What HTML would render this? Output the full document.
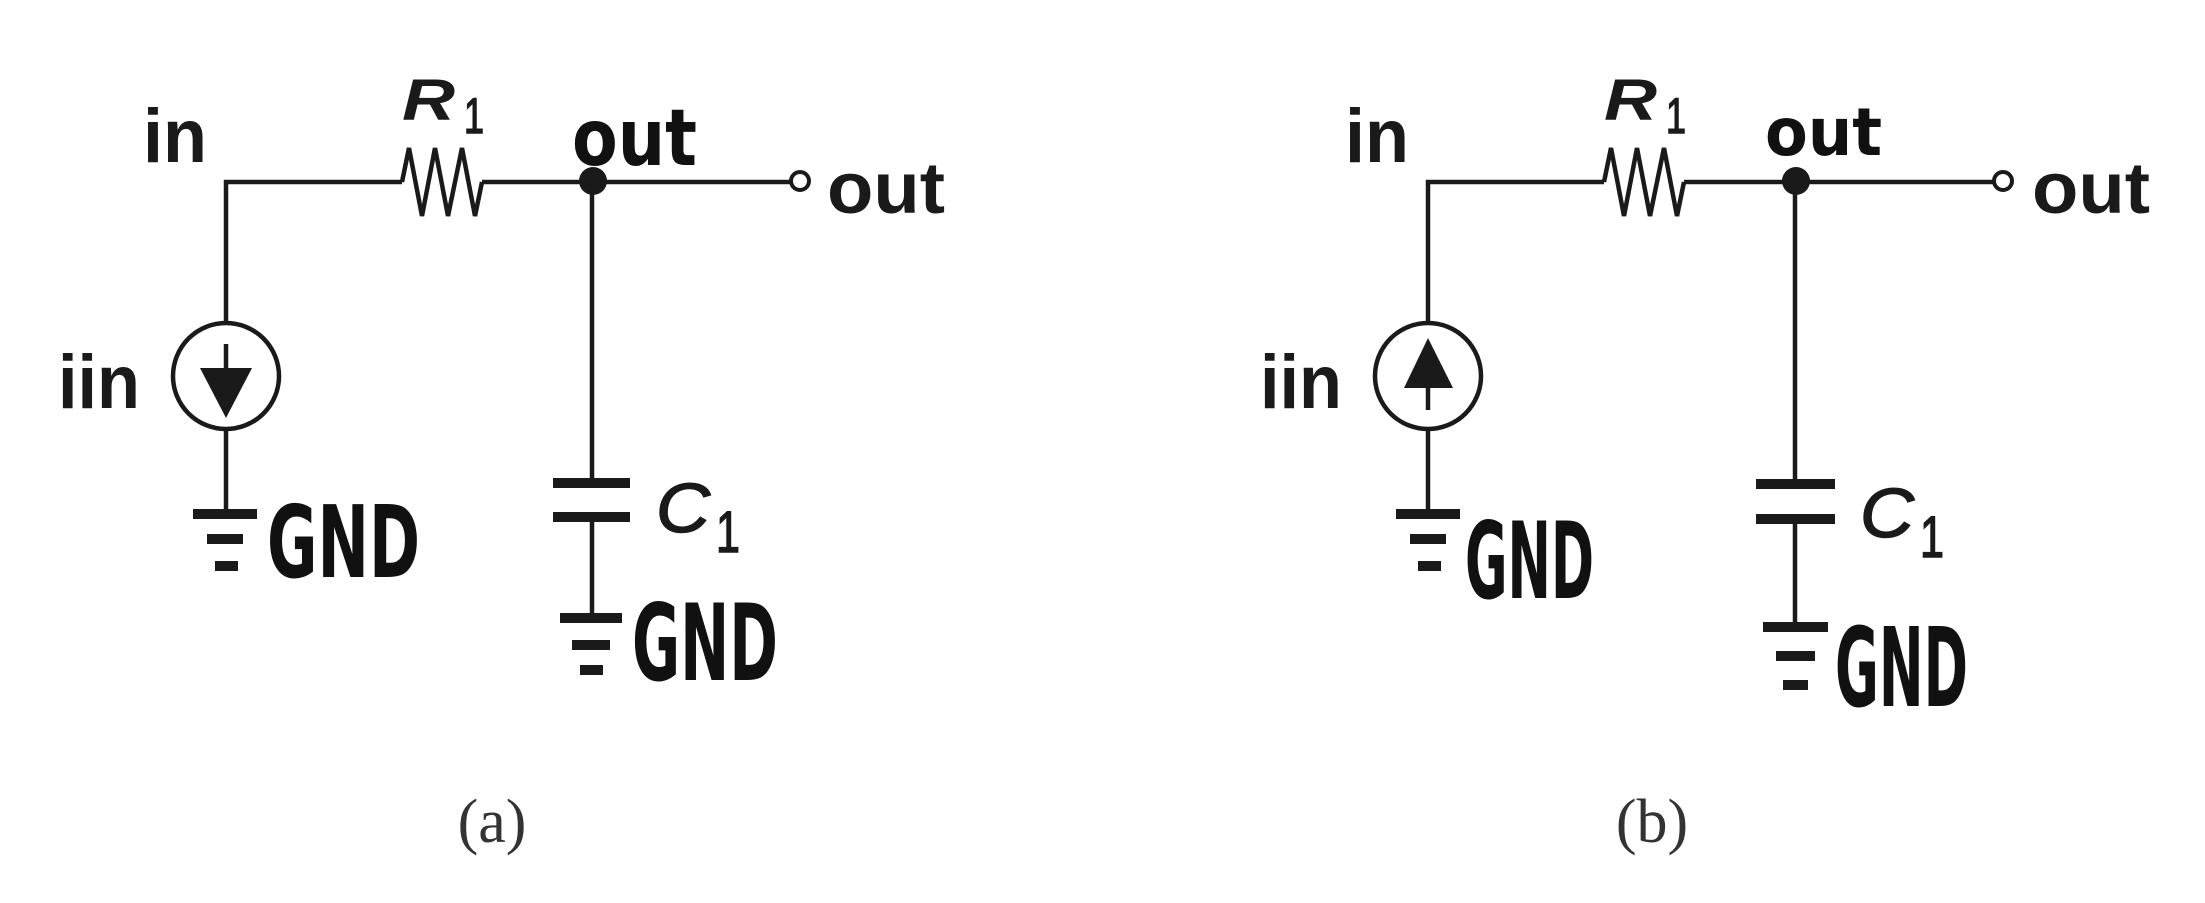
<!DOCTYPE html>
<html><head><meta charset="utf-8"><style>
html,body{margin:0;padding:0;background:#fff;}
svg{display:block;}
.w{stroke:#1a1a1a;stroke-width:4.5;fill:none;stroke-linecap:butt;stroke-linejoin:miter;}
.lab{font-family:"Liberation Sans",Arial,sans-serif;font-weight:bold;fill:#1a1a1a;}
.thin{font-weight:normal;stroke:#1a1a1a;stroke-width:1.5;}
.hand{font-family:"DejaVu Sans","Liberation Sans",sans-serif;font-weight:bold;fill:#111;}
.cap{font-family:"Liberation Serif","Times New Roman",serif;fill:#333;}
</style></head><body>
<svg width="2205" height="903" viewBox="0 0 2205 903" xmlns="http://www.w3.org/2000/svg">
<rect width="2205" height="903" fill="#fff"/>

<!-- Panel (a) -->
<g>
  <path class="w" d="M226,322 V182 H402"/>
  <polyline class="w" points="402,182 409,148 422,216 435,148 448,216 462,148 475,216 482,182"/>
  <path class="w" d="M482,182 H792"/>
  <circle cx="593" cy="181" r="14" fill="#1a1a1a"/>
  <circle cx="800" cy="181" r="9" fill="#fff" stroke="#1a1a1a" stroke-width="4"/>
  <circle cx="226" cy="376" r="53" fill="none" stroke="#1a1a1a" stroke-width="4.5"/>
  <line class="w" x1="226" y1="344" x2="226" y2="372"/>
  <polygon points="200,368 252,368 226,418" fill="#1a1a1a"/>
  <line class="w" x1="226" y1="430" x2="226" y2="515"/>
  <g fill="#1a1a1a">
    <rect x="193" y="509" width="64" height="10"/><rect x="207" y="534" width="36" height="10"/><rect x="215" y="561" width="23" height="10"/>
  </g>
  <line class="w" x1="592" y1="181" x2="592" y2="484"/>
  <g fill="#1a1a1a">
    <rect x="553" y="478" width="77" height="10"/><rect x="553" y="512" width="77" height="10"/>
  </g>
  <line class="w" x1="592" y1="517" x2="592" y2="618"/>
  <g fill="#1a1a1a">
    <rect x="560" y="613" width="62" height="10"/><rect x="572" y="640" width="38" height="10"/><rect x="580" y="665" width="23" height="10"/>
  </g>
  <text class="lab" x="143" y="162" font-size="76" textLength="64" lengthAdjust="spacingAndGlyphs">in</text>
  <text class="lab" x="58" y="408" font-size="76" textLength="82" lengthAdjust="spacingAndGlyphs">iin</text>
  <text class="lab" x="827" y="213" font-size="72" textLength="118" lengthAdjust="spacingAndGlyphs">out</text>
  <text class="lab" x="402" y="120" font-size="58" font-style="italic" textLength="53" lengthAdjust="spacingAndGlyphs">R</text>
  <text class="lab thin" x="464" y="133" font-size="50" textLength="20" lengthAdjust="spacingAndGlyphs">1</text>
  <text class="lab thin" x="656" y="532" font-size="70" font-style="italic" textLength="54" lengthAdjust="spacingAndGlyphs">C</text>
  <text class="lab thin" x="716" y="552" font-size="58" textLength="24" lengthAdjust="spacingAndGlyphs">1</text>
  <text class="hand" x="572" y="165" font-size="78" textLength="125" lengthAdjust="spacingAndGlyphs">out</text>
  <text class="hand" x="267" y="577" font-size="100" textLength="153" lengthAdjust="spacingAndGlyphs">GND</text>
  <text class="hand" x="632" y="680" font-size="106" textLength="146" lengthAdjust="spacingAndGlyphs">GND</text>
  <text class="cap" x="492" y="842" font-size="62" text-anchor="middle">(a)</text>
</g>

<!-- Panel (b) -->
<g>
  <path class="w" d="M1428,322 V182 H1604"/>
  <polyline class="w" points="1604,182 1611,148 1624,216 1637,148 1650,216 1664,148 1677,216 1684,182"/>
  <path class="w" d="M1684,182 H1995"/>
  <circle cx="1796" cy="181" r="14" fill="#1a1a1a"/>
  <circle cx="2003" cy="181" r="9" fill="#fff" stroke="#1a1a1a" stroke-width="4"/>
  <circle cx="1428" cy="376" r="53" fill="none" stroke="#1a1a1a" stroke-width="4.5"/>
  <line class="w" x1="1428" y1="384" x2="1428" y2="410"/>
  <polygon points="1404,388 1453,388 1428,338" fill="#1a1a1a"/>
  <line class="w" x1="1428" y1="430" x2="1428" y2="515"/>
  <g fill="#1a1a1a">
    <rect x="1396" y="509" width="64" height="10"/><rect x="1410" y="534" width="36" height="10"/><rect x="1418" y="561" width="23" height="10"/>
  </g>
  <line class="w" x1="1795" y1="181" x2="1795" y2="484"/>
  <g fill="#1a1a1a">
    <rect x="1756" y="479" width="79" height="10"/><rect x="1756" y="514" width="79" height="10"/>
  </g>
  <line class="w" x1="1795" y1="519" x2="1795" y2="627"/>
  <g fill="#1a1a1a">
    <rect x="1763" y="622" width="65" height="10"/><rect x="1776" y="651" width="39" height="10"/><rect x="1783" y="680" width="25" height="10"/>
  </g>
  <text class="lab" x="1345" y="162" font-size="76" textLength="64" lengthAdjust="spacingAndGlyphs">in</text>
  <text class="lab" x="1260" y="408" font-size="76" textLength="82" lengthAdjust="spacingAndGlyphs">iin</text>
  <text class="lab" x="2032" y="213" font-size="72" textLength="118" lengthAdjust="spacingAndGlyphs">out</text>
  <text class="lab" x="1604" y="120" font-size="58" font-style="italic" textLength="53" lengthAdjust="spacingAndGlyphs">R</text>
  <text class="lab thin" x="1666" y="133" font-size="50" textLength="20" lengthAdjust="spacingAndGlyphs">1</text>
  <text class="lab thin" x="1860" y="537" font-size="70" font-style="italic" textLength="54" lengthAdjust="spacingAndGlyphs">C</text>
  <text class="lab thin" x="1920" y="557" font-size="58" textLength="24" lengthAdjust="spacingAndGlyphs">1</text>
  <text class="hand" x="1765" y="155" font-size="66" textLength="117" lengthAdjust="spacingAndGlyphs">out</text>
  <text class="hand" x="1465" y="598" font-size="106" textLength="129" lengthAdjust="spacingAndGlyphs">GND</text>
  <text class="hand" x="1835" y="706" font-size="110" textLength="133" lengthAdjust="spacingAndGlyphs">GND</text>
  <text class="cap" x="1652" y="842" font-size="62" text-anchor="middle">(b)</text>
</g>
</svg>
</body></html>
